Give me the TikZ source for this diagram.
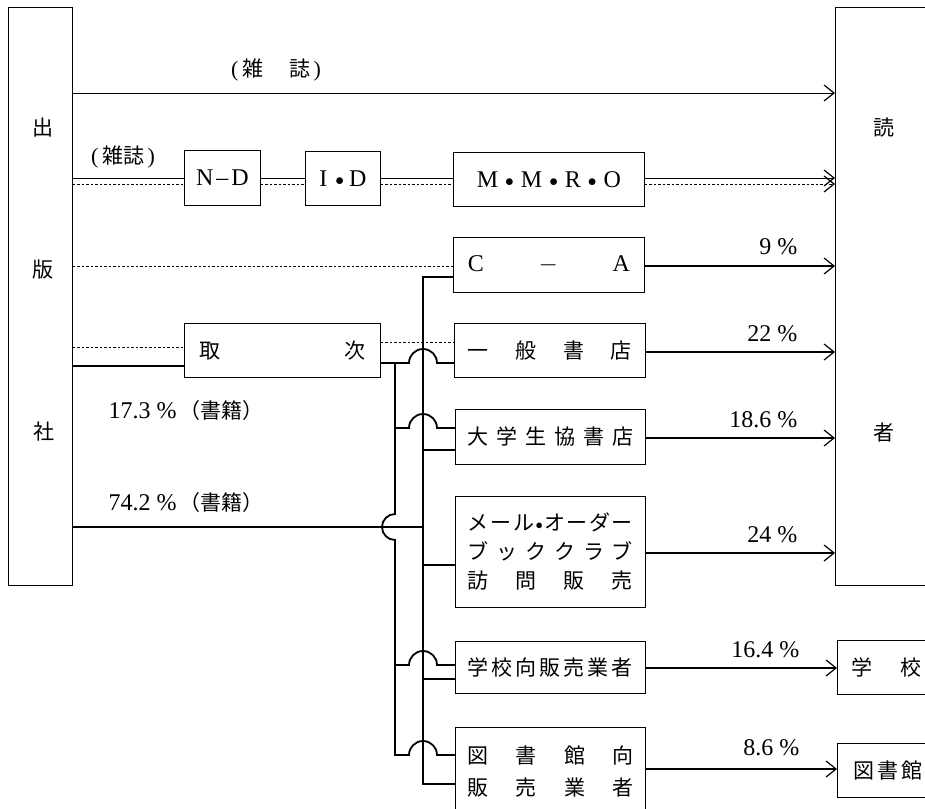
\documentclass[tikz,border=0pt]{standalone}
\usepackage{fontspec}
\setmainfont{Liberation Serif}
\newfontfamily\jp{Noto Sans CJK JP}
\usetikzlibrary{arrows.meta}
\newcommand\spr[2][164pt]{\hbox to #1{#2}}
\newcommand\hf{\hfill}
\newcommand\dotm{\raisebox{1pt}{\scalebox{0.7}{$\bullet$}}}
\begin{document}
\begin{tikzpicture}[x=1pt,y=-1pt,
  box/.style={draw,line width=0.9pt,inner sep=0pt,anchor=north west},
  cj/.style={font=\jp\fontsize{21}{26}\selectfont},
  lat/.style={font=\fontsize{24}{28}\selectfont},
  num/.style={font=\fontsize{24}{28}\selectfont,anchor=base east},
  thinl/.style={line width=1pt},
  bk/.style={line width=1.8pt},
  dotl/.style={line width=1pt,dash pattern=on 2.5pt off 2pt},
  arr/.style={-{Straight Barb[length=10pt,width=16pt,line width=1.2pt]}},
]
\useasboundingbox (0,0) rectangle (925,808);
\clip (0,0) rectangle (925,808);

% main boxes
\node[box,minimum width=64pt,minimum height=578pt] (pub) at (8,7) {};
\node[cj] (pub1) at (43,128) {出};
\node[cj] (pub2) at (43,270) {版};
\node[cj] (pub3) at (44,432) {社};
\node[box,minimum width=110pt,minimum height=578pt] (rd) at (835,7) {};
\node[cj] (rd1) at (884,128) {読};
\node[cj] (rd2) at (884,433) {者};

% magazine chain
\node[box,lat,minimum width=76pt,minimum height=55pt] (nd) at (184,150) {N\hspace{3pt}--\hspace{3pt}D};
\node[box,lat,minimum width=75pt,minimum height=54pt] (id) at (305,151) {I\hspace{8pt}\dotm\hspace{5pt}D};
\node[box,lat,minimum width=191pt,minimum height=54pt] (mmro) at (453,152) {M\hspace{7pt}\dotm\hspace{7pt}M\hspace{7pt}\dotm\hspace{7pt}R\hspace{7pt}\dotm\hspace{7pt}O};
\node[box,lat,minimum width=191pt,minimum height=55pt] (ca) at (453,237) {\spr[162pt]{C\hf$-$\hf A}};

% books
\node[box,cj,minimum width=196pt,minimum height=54pt] (tori) at (184,323) {\spr[166pt]{取\hf 次}};
\node[box,cj,minimum width=191pt,minimum height=54pt] (ippan) at (454,323) {\spr{一\hf 般\hf 書\hf 店}};
\node[box,cj,minimum width=190pt,minimum height=55pt] (daigaku) at (455,409) {\spr[166pt]{大\hf 学\hf 生\hf 協\hf 書\hf 店}};
\node[box,font=\jp\fontsize{21}{29}\selectfont,minimum width=190pt,minimum height=111pt,align=center] (mail) at (455,496)
  {\spr[165pt]{メ\hf ー\hf ル\hf\dotm\hf オ\hf ー\hf ダ\hf ー}\\\spr[165pt]{ブ\hf ッ\hf ク\hf ク\hf ラ\hf ブ}\\\spr[165pt]{訪\hf 問\hf 販\hf 売}};
\node[box,cj,minimum width=190pt,minimum height=52pt] (gakko) at (455,641) {\spr[165pt]{学\hf 校\hf 向\hf 販\hf 売\hf 業\hf 者}};
\node[box,font=\jp\fontsize{21}{32}\selectfont,minimum width=190pt,minimum height=88pt,align=center] (tosho) at (455,727)
  {\spr[166pt]{図\hf 書\hf 館\hf 向}\\\spr[166pt]{販\hf 売\hf 業\hf 者}};
\node[box,cj,minimum width=98pt,minimum height=54pt] (school) at (837,640) {学\hspace{28pt}校};
\node[box,cj,minimum width=102pt,minimum height=54pt] (library) at (837,743) {図\hspace{3pt}書\hspace{3pt}館};

% labels
\node[font=\fontsize{22}{26}\selectfont] (lz1) at (276,70) {(\,{\jp\fontsize{21}{26}\selectfont 雑}\hspace{26pt}{\jp\fontsize{21}{26}\selectfont 誌}\,)};
\node[font=\fontsize{22}{26}\selectfont] (lz2) at (123,157) {(\,{\jp\fontsize{21}{26}\selectfont 雑誌}\,)};
\node[font=\fontsize{24}{28}\selectfont,anchor=base west] (l173) at (105,418) {17.3 \%\hspace{3pt}{\jp\fontsize{21}{26}\selectfont（書籍）}};
\node[font=\fontsize{24}{28}\selectfont,anchor=base west] (l742) at (105,510) {74.2 \%\hspace{3pt}{\jp\fontsize{21}{26}\selectfont（書籍）}};
\node[num] (p1) at (801,254) {9 \%};
\node[num] (p2) at (801,341) {22 \%};
\node[num] (p3) at (801,427) {18.6 \%};
\node[num] (p4) at (801,542) {24 \%};
\node[num] (p5) at (803,657) {16.4 \%};
\node[num] (p6) at (803,755) {8.6 \%};

% magazine lines
\draw[thinl,arr] (pub.east |- 0,93) -- (rd.west |- 0,93);
\draw[thinl] (pub.east |- 0,178) -- (nd.west |- 0,178);
\draw[dotl] (pub.east |- 0,184) -- (nd.west |- 0,184);
\draw[thinl] (nd.east |- 0,178) -- (id.west |- 0,178);
\draw[dotl] (nd.east |- 0,184) -- (id.west |- 0,184);
\draw[thinl] (id.east |- 0,178) -- (mmro.west |- 0,178);
\draw[dotl] (id.east |- 0,184) -- (mmro.west |- 0,184);
\draw[thinl,arr] (mmro.east |- 0,178) -- (rd.west |- 0,178);
\draw[dotl,arr] (mmro.east |- 0,184) -- (rd.west |- 0,184);

% C-A
\draw[dotl] (pub.east |- 0,266) -- (ca.west |- 0,266);
\draw[bk,arr] (ca.east |- 0,266) -- (rd.west |- 0,266);

% toritsugi
\draw[dotl] (pub.east |- 0,347) -- (tori.west |- 0,347);
\draw[bk] (pub.east |- 0,366) -- (tori.west |- 0,366);
\draw[dotl] (tori.east |- 0,342) -- (ippan.west |- 0,342);
\coordinate (j1) at (395,363);
\draw[bk] (tori.east |- j1) -- (j1) -- ++(14,0) arc[start angle=180,end angle=0,radius=14pt] -- (ippan.west |- j1);
\draw[bk] (j1) -- (395,514) arc[start angle=90,end angle=270,radius=13pt] -- (395,755) -- ++(14,0) arc[start angle=180,end angle=0,radius=14pt] -- (tosho.west |- 0,755);
\draw[bk] (395,428) -- ++(14,0) arc[start angle=180,end angle=0,radius=14pt] -- (daigaku.west |- 0,428);
\draw[bk] (395,665) -- ++(14,0) arc[start angle=180,end angle=0,radius=14pt] -- (gakko.west |- 0,665);

% direct line
\draw[bk] (ca.west |- 0,277) -| (423,784) -- (tosho.west |- 0,784);
\draw[bk] (423,450) -- (daigaku.west |- 0,450);
\draw[bk] (423,565) -- (mail.west |- 0,565);
\draw[bk] (423,679) -- (gakko.west |- 0,679);
\draw[bk] (pub.east |- 0,527) -- (423,527);

% outputs
\draw[bk,arr] (ippan.east |- 0,352) -- (rd.west |- 0,352);
\draw[bk,arr] (daigaku.east |- 0,438) -- (rd.west |- 0,438);
\draw[bk,arr] (mail.east |- 0,553) -- (rd.west |- 0,553);
\draw[bk,arr] (gakko.east |- 0,668) -- (school.west |- 0,668);
\draw[bk,arr] (tosho.east |- 0,769) -- (library.west |- 0,769);
\end{tikzpicture}
\end{document}
